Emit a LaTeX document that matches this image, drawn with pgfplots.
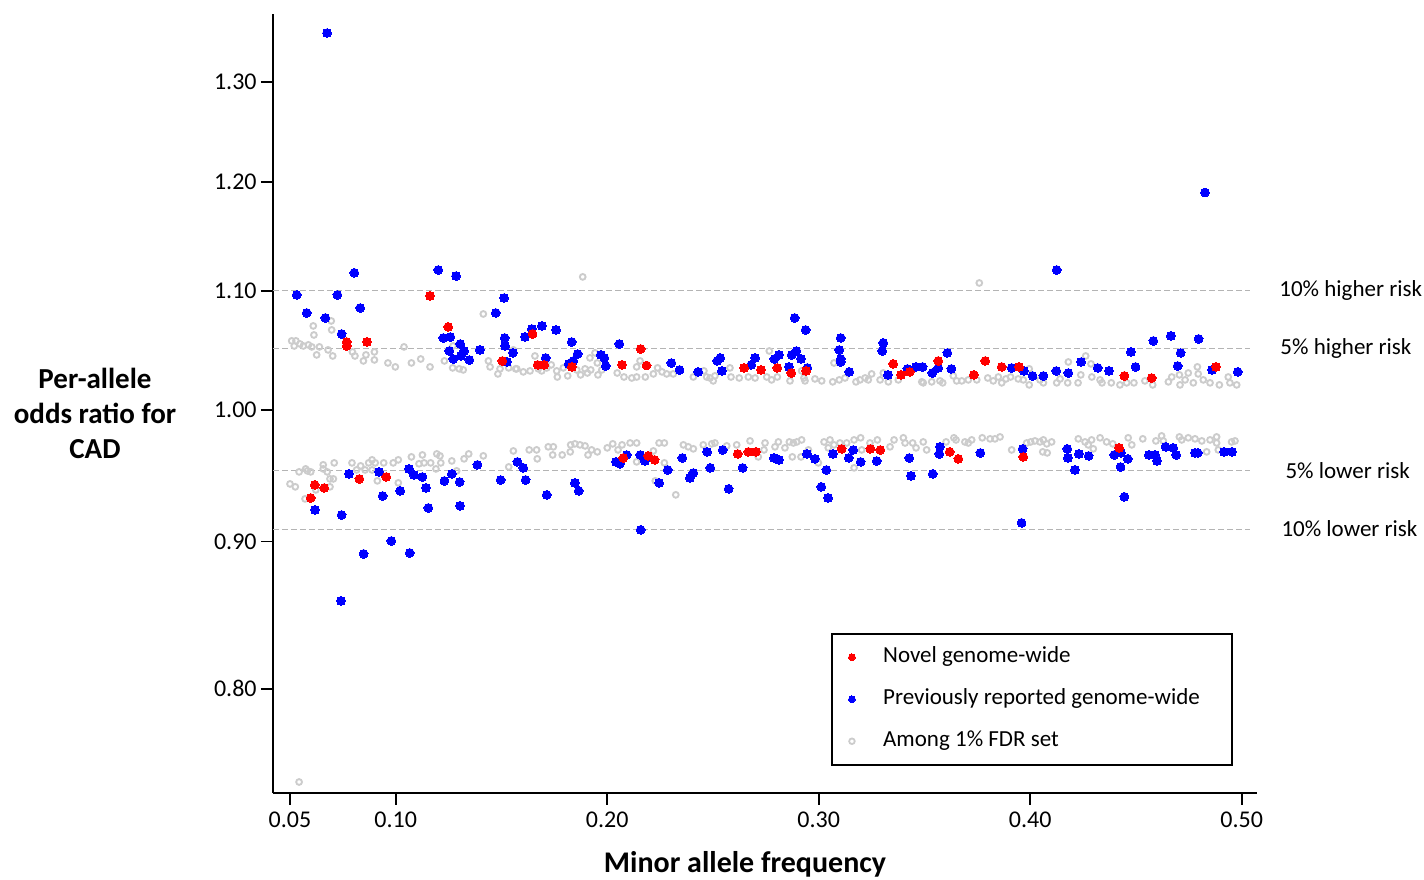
\documentclass[border=0pt]{standalone}
\usepackage{fontspec}
\setmainfont{Carlito}
\usepackage{pgfplots}
\pgfplotsset{compat=1.18}
\definecolor{ptred}{RGB}{255,0,0}
\definecolor{ptblue}{RGB}{0,0,255}
\definecolor{ptgray}{RGB}{204,204,204}
\definecolor{refline}{RGB}{180,180,180}
\begin{document}
\begin{tikzpicture}
\useasboundingbox (-136.5pt,-43pt) rectangle (575.5pt,396.5pt);
\begin{axis}[
  scale only axis, width=492pt, height=389.5pt,
  xmin=0.04196, xmax=0.5072,
  ymode=log, ymin=0.7361, ymax=1.3727,
  axis x line*=bottom, axis y line*=left,
  axis line style={line width=1pt, -},
  tick align=outside, major tick length=6pt, minor tick length=0pt,
  tick style={line width=0.8pt, black},
  xtick={0.05,0.1,0.2,0.3,0.4,0.5},
  xticklabels={0.05,0.10,0.20,0.30,0.40,0.50},
  ytick={0.8,0.9,1.0,1.1,1.2,1.3},
  yticklabels={0.80,0.90,1.00,1.10,1.20,1.30},
  ticklabel style={font=\fontsize{12}{14}\selectfont},
  yticklabel style={inner sep=2pt},
  clip=false,
  legend style={at={(0.5671,0.2054)}, anchor=north west, draw=black,
    line width=0.75pt, fill=white, inner xsep=8.4pt, inner ysep=6.5pt,
    row sep=10.5pt, column sep=13.9pt,
    font=\fontsize{11.5}{13}\selectfont,
    nodes={inner sep=0pt, text height=8pt, text depth=2.5pt, anchor=west}},
  legend image code/.code={\draw[#1] plot coordinates {(0pt,0pt)};},
]
% reference lines
\addplot[refline, line width=0.5pt, dash pattern=on 3pt off 1.5pt, forget plot] coordinates {(0.04196,1.1) (0.5039,1.1)};
\addplot[refline, line width=0.5pt, dash pattern=on 3pt off 1.5pt, forget plot] coordinates {(0.04196,1.05) (0.5039,1.05)};
\addplot[refline, line width=0.5pt, dash pattern=on 3pt off 1.5pt, forget plot] coordinates {(0.04196,0.95238) (0.5039,0.95238)};
\addplot[refline, line width=0.5pt, dash pattern=on 3pt off 1.5pt, forget plot] coordinates {(0.04196,0.90909) (0.5039,0.90909)};

% among 1% FDR set
\addplot[ptgray, only marks, mark=o, mark size=1.45pt, mark options={line width=0.95pt}, forget plot] table {
x y
0.0508 1.0568
0.0528 1.0568
0.0520 1.0525
0.0547 1.0542
0.0563 1.0525
0.0587 1.0534
0.0603 1.0517
0.0639 1.0517
0.0680 1.0492
0.0626 1.0450
0.0702 1.0441
0.0610 1.0695
0.0613 1.0618
0.0695 1.0738
0.0697 1.0661
0.0795 1.0475
0.0807 1.0441
0.0847 1.0400
0.0859 1.0450
0.0899 1.0475
0.0899 1.0408
0.0963 1.0383
0.0998 1.0350
0.1039 1.0517
0.1074 1.0383
0.1118 1.0416
0.1162 1.0350
0.1230 1.0400
0.1269 1.0342
0.1300 1.0334
0.1319 1.0325
0.1414 1.0798
0.1438 1.0400
0.1446 1.0350
0.1483 1.0292
0.1493 1.0334
0.1534 1.0342
0.1567 1.0334
0.1271 1.0525
0.1884 1.1123
0.1556 1.0492
0.1572 1.0334
0.1603 1.0309
0.1635 1.0317
0.1658 1.0441
0.1674 1.0334
0.1690 1.0317
0.1714 1.0342
0.1735 1.0367
0.1761 1.0317
0.1764 1.0267
0.1792 1.0342
0.1813 1.0276
0.1856 1.0325
0.1874 1.0284
0.1895 1.0334
0.1906 1.0300
0.1918 1.0425
0.1922 1.0325
0.1942 1.0467
0.1953 1.0383
0.1956 1.0284
0.1974 1.0325
0.2047 1.0300
0.2079 1.0267
0.2116 1.0259
0.2139 1.0350
0.2139 1.0267
0.2155 1.0400
0.2180 1.0267
0.2218 1.0292
0.2238 1.0342
0.2259 1.0309
0.2281 1.0292
0.2312 1.0292
0.2407 1.0267
0.2457 1.0317
0.2470 1.0267
0.2486 1.0259
0.2501 1.0235
0.2509 1.0276
0.2580 1.0342
0.2585 1.0267
0.2624 1.0259
0.2667 1.0267
0.2699 1.0259
0.3759 1.1069
0.2766 1.0483
0.2754 1.0267
0.2777 1.0243
0.2804 1.0267
0.2864 1.0235
0.2919 1.0317
0.2930 1.0259
0.2935 1.0235
0.2982 1.0251
0.3014 1.0235
0.3066 1.0227
0.3072 1.0383
0.3097 1.0243
0.3124 1.0259
0.3176 1.0227
0.3195 1.0243
0.3219 1.0259
0.3234 1.0243
0.3250 1.0292
0.3290 1.0243
0.3305 1.0300
0.3329 1.0227
0.3376 1.0243
0.3487 1.0227
0.3494 1.0219
0.3534 1.0227
0.3573 1.0235
0.3586 1.0219
0.3636 1.0276
0.3652 1.0235
0.3676 1.0235
0.3707 1.0243
0.3747 1.0243
0.3799 1.0259
0.3825 1.0235
0.3849 1.0267
0.3865 1.0219
0.3885 1.0251
0.3907 1.0267
0.3943 1.0251
0.3967 1.0243
0.3995 1.0334
0.3995 1.0202
0.4046 1.0243
0.4062 1.0219
0.4125 1.0219
0.4141 1.0251
0.4180 1.0391
0.4177 1.0219
0.4226 1.0219
0.4239 1.0284
0.4262 1.0441
0.4287 1.0375
0.4291 1.0267
0.4330 1.0243
0.4339 1.0219
0.4383 1.0219
0.4424 1.0202
0.4456 1.0219
0.4490 1.0219
0.4542 1.0235
0.4579 1.0202
0.4653 1.0227
0.4669 1.0267
0.4705 1.0284
0.4708 1.0202
0.4732 1.0243
0.4747 1.0300
0.4771 1.0219
0.4790 1.0350
0.4794 1.0292
0.4818 1.0243
0.4850 1.0219
0.4894 1.0202
0.4936 1.0267
0.4944 1.0219
0.4976 1.0202
0.0500 0.9425
0.0525 0.9403
0.0543 0.9516
0.0574 0.9539
0.0582 0.9524
0.0598 0.9516
0.0571 0.9313
0.0622 0.9380
0.0657 0.9570
0.0657 0.9539
0.0676 0.9516
0.0689 0.9463
0.0705 0.9463
0.0689 0.9403
0.0709 0.9585
0.0793 0.9585
0.0815 0.9531
0.0834 0.9562
0.0855 0.9531
0.0872 0.9585
0.0888 0.9608
0.0903 0.9585
0.0888 0.9531
0.0913 0.9448
0.0943 0.9585
0.0988 0.9585
0.1012 0.9608
0.1012 0.9433
0.1074 0.9631
0.1110 0.9578
0.1126 0.9646
0.1134 0.9585
0.1165 0.9585
0.1194 0.9654
0.1209 0.9639
0.1213 0.9585
0.1190 0.9539
0.1265 0.9600
0.1323 0.9616
0.1345 0.9654
0.1414 0.9639
0.1534 0.9554
0.1556 0.9677
0.1288 0.9524
0.1631 0.9685
0.1666 0.9685
0.1669 0.9616
0.1721 0.9709
0.1745 0.9709
0.1742 0.9646
0.1787 0.9646
0.1827 0.9724
0.1825 0.9670
0.1847 0.9732
0.1871 0.9724
0.1895 0.9716
0.1909 0.9646
0.1926 0.9685
0.1953 0.9670
0.2000 0.9701
0.2026 0.9732
0.2051 0.9685
0.2070 0.9724
0.2108 0.9739
0.2139 0.9739
0.2139 0.9593
0.2218 0.9677
0.2227 0.9448
0.2245 0.9739
0.2270 0.9739
0.2270 0.9585
0.2324 0.9343
0.2360 0.9724
0.2383 0.9709
0.2407 0.9693
0.2454 0.9724
0.2494 0.9732
0.2509 0.9739
0.2565 0.9716
0.2612 0.9724
0.2675 0.9755
0.2714 0.9631
0.2746 0.9739
0.2741 0.9685
0.2793 0.9709
0.2809 0.9747
0.2840 0.9701
0.2861 0.9747
0.2880 0.9739
0.2896 0.9747
0.2919 0.9763
0.2875 0.9631
0.2916 0.9631
0.2951 0.9685
0.2998 0.9585
0.3025 0.9747
0.3053 0.9763
0.3045 0.9701
0.3072 0.9724
0.3100 0.9739
0.3132 0.9739
0.3167 0.9763
0.3198 0.9779
0.3203 0.9685
0.3167 0.9547
0.3242 0.9739
0.3277 0.9763
0.3337 0.9709
0.3356 0.9763
0.3400 0.9779
0.3408 0.9739
0.3444 0.9739
0.3460 0.9701
0.3494 0.9747
0.3510 0.9685
0.3602 0.9747
0.3639 0.9779
0.3649 0.9763
0.3691 0.9747
0.3707 0.9739
0.3723 0.9763
0.3773 0.9779
0.3810 0.9771
0.3833 0.9771
0.3857 0.9786
0.3912 0.9685
0.3983 0.9739
0.4002 0.9747
0.4022 0.9755
0.4046 0.9747
0.4062 0.9763
0.4078 0.9732
0.4101 0.9747
0.4059 0.9670
0.4080 0.9662
0.4227 0.9771
0.4259 0.9747
0.4274 0.9724
0.4290 0.9763
0.4298 0.9693
0.4330 0.9779
0.4361 0.9747
0.4390 0.9732
0.4463 0.9779
0.4480 0.9724
0.4532 0.9771
0.4594 0.9755
0.4621 0.9794
0.4629 0.9755
0.4705 0.9786
0.4716 0.9763
0.4747 0.9779
0.4779 0.9771
0.4811 0.9755
0.4834 0.9670
0.4850 0.9763
0.4881 0.9786
0.4881 0.9739
0.4889 0.9685
0.4952 0.9747
0.4968 0.9755
0.0543 0.7426
};

% previously reported genome-wide
\addplot[ptblue, only marks, mark=*, mark size=2.2pt, mark options={line width=0pt}, forget plot] table {
x y
0.0675 1.352
0.4826 1.190
0.0804 1.1160
0.0532 1.0964
0.0724 1.0964
0.0832 1.0850
0.0579 1.0807
0.0667 1.0764
0.0744 1.0627
0.1201 1.1185
0.1285 1.1131
0.1512 1.0937
0.1473 1.0807
0.1225 1.0593
0.1258 1.0601
0.1305 1.0542
0.1253 1.0483
0.1323 1.0483
0.1398 1.0492
0.1272 1.0416
0.1308 1.0441
0.1348 1.0408
0.1515 1.0593
0.1517 1.0525
0.1554 1.0467
0.1526 1.0391
0.1611 1.0601
0.1644 1.0669
0.1691 1.0695
0.1758 1.0661
0.1832 1.0559
0.1860 1.0458
0.1839 1.0400
0.1818 1.0375
0.1709 1.0425
0.1970 1.0450
0.1986 1.0425
0.1993 1.0358
0.2057 1.0542
0.2303 1.0383
0.2342 1.0325
0.2430 1.0309
0.2520 1.0400
0.2534 1.0425
0.2542 1.0317
0.2681 1.0367
0.2699 1.0425
0.2790 1.0416
0.2812 1.0450
0.2859 1.0350
0.2872 1.0450
0.2894 1.0483
0.2886 1.0764
0.2938 1.0661
0.2916 1.0416
0.2946 1.0342
0.3104 1.0593
0.3097 1.0492
0.3104 1.0416
0.3104 1.0391
0.3144 1.0309
0.3305 1.0551
0.3300 1.0483
0.3327 1.0284
0.3419 1.0334
0.3460 1.0350
0.3491 1.0350
0.3537 1.0300
0.3565 1.0342
0.3608 1.0467
0.3627 1.0334
0.4125 1.1185
0.3912 1.0342
0.3970 1.0317
0.4011 1.0276
0.4062 1.0276
0.4123 1.0317
0.4180 1.0300
0.4240 1.0391
0.4319 1.0342
0.4372 1.0317
0.4476 1.0475
0.4498 1.0350
0.4582 1.0568
0.4665 1.0610
0.4711 1.0467
0.4697 1.0358
0.4796 1.0585
0.4859 1.0325
0.4981 1.0309
0.0779 0.9501
0.0921 0.9516
0.1063 0.9539
0.1086 0.9493
0.1126 0.9478
0.1143 0.9395
0.1021 0.9373
0.0938 0.9335
0.1230 0.9448
0.1265 0.9501
0.1302 0.9440
0.1154 0.9246
0.1304 0.9261
0.1386 0.9570
0.1496 0.9455
0.1575 0.9593
0.0618 0.9231
0.0744 0.9194
0.0979 0.9005
0.0848 0.8912
0.1066 0.8919
0.0741 0.8583
0.1603 0.9547
0.1614 0.9455
0.1714 0.9343
0.1847 0.9433
0.1865 0.9373
0.2041 0.9593
0.2060 0.9578
0.2092 0.9646
0.2156 0.9646
0.2178 0.9600
0.2286 0.9531
0.2245 0.9433
0.2355 0.9623
0.2391 0.9470
0.2407 0.9508
0.2472 0.9670
0.2487 0.9547
0.2546 0.9685
0.2574 0.9388
0.2640 0.9547
0.2158 0.9085
0.2788 0.9623
0.2812 0.9608
0.2944 0.9654
0.2982 0.9616
0.3036 0.9531
0.3012 0.9403
0.3044 0.9320
0.3067 0.9654
0.3142 0.9623
0.3163 0.9685
0.3198 0.9593
0.3274 0.9600
0.3428 0.9623
0.3436 0.9486
0.3539 0.9501
0.3573 0.9709
0.3570 0.9654
0.3764 0.9662
0.3964 0.9693
0.4175 0.9693
0.4178 0.9623
0.4230 0.9654
0.4276 0.9639
0.4211 0.9531
0.4397 0.9646
0.4429 0.9662
0.4461 0.9616
0.4427 0.9554
0.4445 0.9328
0.4561 0.9646
0.4590 0.9646
0.4599 0.9600
0.4640 0.9709
0.4676 0.9701
0.4690 0.9646
0.4779 0.9662
0.4792 0.9662
0.4916 0.9670
0.4954 0.9670
0.3959 0.9136
};

% novel genome-wide
\addplot[ptred, only marks, mark=*, mark size=2.2pt, mark options={line width=0pt}, forget plot] table {
x y
0.1162 1.0955
0.1248 1.0687
0.0768 1.0559
0.0768 1.0525
0.0864 1.0559
0.1504 1.0400
0.1647 1.0627
0.1671 1.0367
0.1702 1.0367
0.1833 1.0350
0.2070 1.0367
0.2158 1.0500
0.2186 1.0362
0.2647 1.0342
0.2727 1.0325
0.2804 1.0342
0.2870 1.0300
0.2940 1.0317
0.3352 1.0375
0.3389 1.0284
0.3430 1.0309
0.3565 1.0400
0.3733 1.0284
0.3787 1.0400
0.3865 1.0350
0.3947 1.0350
0.4445 1.0276
0.4574 1.0259
0.4878 1.0350
0.0617 0.9418
0.0662 0.9395
0.0598 0.9320
0.0828 0.9463
0.0955 0.9478
0.2076 0.9623
0.2194 0.9639
0.2224 0.9608
0.2617 0.9654
0.2667 0.9670
0.2703 0.9670
0.3108 0.9693
0.3244 0.9693
0.3291 0.9685
0.3619 0.9670
0.3660 0.9616
0.3967 0.9631
0.4420 0.9701
};

\addlegendimage{only marks, mark=*, mark size=1.7pt, ptred, mark options={line width=0pt}}
\addlegendentry{\makebox[166pt][l]{Novel genome-wide}}
\addlegendimage{only marks, mark=*, mark size=1.7pt, ptblue, mark options={line width=0pt}}
\addlegendentry{\makebox[166pt][l]{Previously reported genome-wide}}
\addlegendimage{only marks, mark=o, mark size=1.4pt, ptgray, mark options={line width=0.9pt}}
\addlegendentry{\makebox[166pt][l]{Among 1\% FDR set}}

\node[anchor=west, inner sep=0pt, font=\fontsize{11.5}{13}\selectfont] at (axis cs:0.5176,1.1) {10\% higher risk};
\node[anchor=west, inner sep=0pt, font=\fontsize{11.5}{13}\selectfont] at (axis cs:0.5181,1.05) {5\% higher risk};
\node[anchor=west, inner sep=0pt, font=\fontsize{11.5}{13}\selectfont] at (axis cs:0.5205,0.95238) {5\% lower risk};
\node[anchor=west, inner sep=0pt, font=\fontsize{11.5}{13}\selectfont] at (axis cs:0.5186,0.90909) {10\% lower risk};

\node[align=center, font=\bfseries\fontsize{14.5}{17.5}\selectfont] at (rel axis cs:-0.1809,0.4878) {Per-allele\\odds ratio for\\CAD};
\node[anchor=base, yshift=-39.5pt, font=\bfseries\fontsize{15}{18}\selectfont] at (rel axis cs:0.4797,0) {Minor allele frequency};
\end{axis}
\end{tikzpicture}
\end{document}
